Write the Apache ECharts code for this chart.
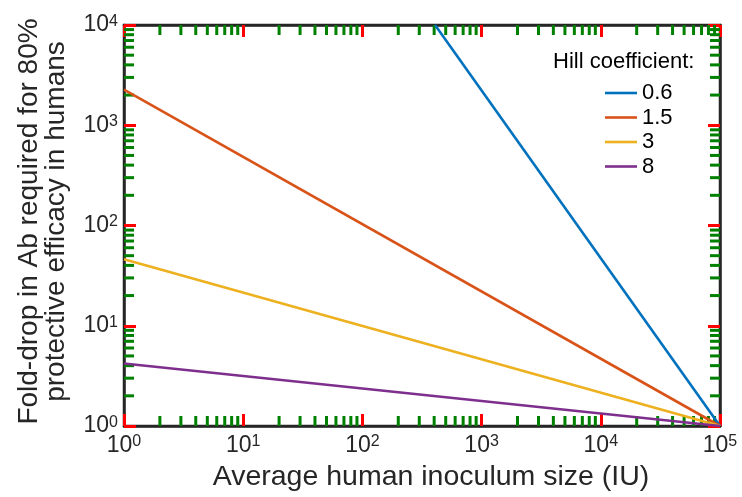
<!DOCTYPE html>
<html>
<head>
<meta charset="utf-8">
<script src="https://cdn.jsdelivr.net/npm/echarts@6/dist/echarts.min.js"></script>
<style>
  html, body { margin: 0; padding: 0; background: #fff; }
  #chart { width: 742px; height: 497px; }
</style>
</head>
<body>
<div id="chart"></div>
<script>
// Hill coefficients (legend)
const hillNames = ['0.6', '1.5', '3', '8'];
const lineColors = ['#0072BD', '#D95319', '#EDB120', '#7E2F8E'];
// straight lines in log-log space: start and end point of each
const xStart = [407, 1, 1, 1];
const yStart = [10000, 2270, 46, 4.2];
const xEnd = [100000, 100000, 100000, 100000];
const yEnd = [1, 1, 1, 1];

const xMin = 1, xMax = 100000;
const yMin = 1, yMax = 10000;

const fontFamily = 'Liberation Sans';

// minor tick positions 2..9 x 10^k
function minorTicks(lo, hi) {
  const out = [];
  for (let d = lo; d < hi; d *= 10) {
    for (let m = 2; m <= 9; m++) out.push(m * d);
  }
  return out;
}
const xMinor = minorTicks(xMin, xMax);
const yMinor = minorTicks(yMin, yMax);

const myChart = echarts.init(document.getElementById('chart'));

function powLabel(v) {
  return '{b|10}{s|' + Math.round(Math.log10(v)) + '}';
}
const labelRich = {
  b: { fontSize: 23, fontFamily: fontFamily, color: '#262626' },
  s: { fontSize: 16, fontFamily: fontFamily, color: '#262626', verticalAlign: 'top' }
};

function axisLine() {
  return { show: true, onZero: false, lineStyle: { color: '#262626', width: 2.5 } };
}
function majorTick() {
  return { show: true, inside: true, length: 12, lineStyle: { color: 'red', width: 3 } };
}

const series = hillNames.map((name, i) => ({
  name: name,
  type: 'line',
  data: [[xStart[i], yStart[i]], [xEnd[i], yEnd[i]]],
  symbol: 'none',
  lineStyle: { color: lineColors[i], width: 2.6 },
  itemStyle: { color: lineColors[i] }
}));

// minor ticks on all four sides, placed through the axes' own scales
function tickLine(x1, y1, x2, y2) {
  return { type: 'line', shape: { x1: x1, y1: y1, x2: x2, y2: y2 }, style: { stroke: 'green', lineWidth: 3 } };
}
series.push({
  type: 'custom',
  clip: false,
  silent: true,
  data: xMinor.map(v => [v, yMin]),
  encode: { x: 0, y: 1 },
  renderItem: function (params, api) {
    const v = api.value(0);
    const b = api.coord([v, yMin]);
    const t = api.coord([v, yMax]);
    return {
      type: 'group',
      children: [tickLine(b[0], b[1], b[0], b[1] - 10), tickLine(t[0], t[1], t[0], t[1] + 10)]
    };
  }
});
series.push({
  type: 'custom',
  clip: false,
  silent: true,
  data: yMinor.map(v => [xMin, v]),
  encode: { x: 0, y: 1 },
  renderItem: function (params, api) {
    const v = api.value(1);
    const l = api.coord([xMin, v]);
    const r = api.coord([xMax, v]);
    return {
      type: 'group',
      children: [tickLine(l[0], l[1], l[0] + 10, l[1]), tickLine(r[0], r[1], r[0] - 10, r[1])]
    };
  }
});

const option = {
  animation: false,
  backgroundColor: '#fff',
  title: {
    text: 'Hill coefficient:',
    left: 548, top: 46,
    textStyle: { fontSize: 22, fontWeight: 'normal', fontFamily: fontFamily, color: '#000' }
  },
  grid: {
    left: 124, right: 22, top: 25, bottom: 68,
    show: true, borderColor: '#262626', borderWidth: 2.5, backgroundColor: 'transparent'
  },
  legend: {
    orient: 'vertical',
    left: 600,
    top: 77,
    itemWidth: 32,
    itemHeight: 14,
    itemGap: 2.5,
    data: hillNames,
    textStyle: { fontSize: 22, lineHeight: 20, fontFamily: fontFamily, color: '#000' },
    icon: 'path://M0,6 L32,6 L32,8.6 L0,8.6 Z'
  },
  xAxis: [
    {
      type: 'log', logBase: 10, min: xMin, max: xMax,
      name: 'Average human inoculum size (IU)',
      nameLocation: 'middle', nameGap: 37,
      nameTextStyle: { fontSize: 28.5, fontFamily: fontFamily, color: '#262626', padding: [0, 0, 0, 18] },
      axisLine: axisLine(), axisTick: majorTick(),
      splitLine: { show: false },
      axisLabel: { margin: 8, formatter: powLabel, rich: labelRich }
    },
    {
      type: 'log', logBase: 10, min: xMin, max: xMax, position: 'top',
      axisLine: axisLine(), axisTick: majorTick(),
      splitLine: { show: false }, axisLabel: { show: false }
    }
  ],
  yAxis: [
    {
      type: 'log', logBase: 10, min: yMin, max: yMax,
      name: 'Fold-drop in Ab required for 80%\nprotective efficacy in humans',
      nameLocation: 'middle', nameGap: 54, nameRotate: 90,
      nameTextStyle: { fontSize: 28, lineHeight: 27, fontFamily: fontFamily, color: '#262626', padding: [0, 0, 0, 8] },
      axisLine: axisLine(), axisTick: majorTick(),
      splitLine: { show: false },
      axisLabel: { margin: 6, formatter: powLabel, rich: labelRich }
    },
    {
      type: 'log', logBase: 10, min: yMin, max: yMax, position: 'right',
      axisLine: axisLine(), axisTick: majorTick(),
      splitLine: { show: false }, axisLabel: { show: false }
    }
  ],
  series: series
};

myChart.setOption(option);
</script>
</body>
</html>
